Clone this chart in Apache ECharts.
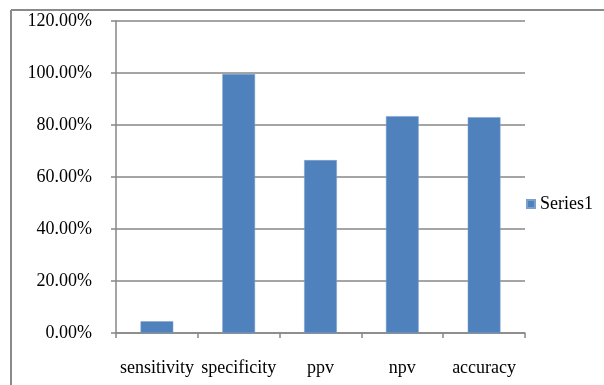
<!DOCTYPE html>
<html>
<head>
<meta charset="utf-8">
<script src="https://cdn.jsdelivr.net/npm/echarts@6/dist/echarts.min.js"></script>
<style>
  html,body{ margin:0; padding:0; background:#fff; }
  #chart{ width:604px; height:385px; }
</style>
</head>
<body>
<div id="chart"></div>
<script>
  // 数据
  var categories = ['sensitivity', 'specificity', 'ppv', 'npv', 'accuracy'];
  var series1 = [0.045, 0.996, 0.665, 0.834, 0.830];
  var seriesName = 'Series1';

  var font = 'Liberation Serif';
  var gray = '#878787';

  var myChart = echarts.init(document.getElementById('chart'));
  var option = {
    animation: false,
    backgroundColor: '#fff',
    textStyle: { fontFamily: font },
    // 外框（只露出左、上两边）
    graphic: [
      { type: 'line', shape: { x1: 11, y1: 10, x2: 604, y2: 10 }, style: { stroke: '#8a8a8a', lineWidth: 2 } },
      { type: 'line', shape: { x1: 11, y1: 10, x2: 11, y2: 385 }, style: { stroke: '#8a8a8a', lineWidth: 2 } }
    ],
    legend: {
      data: [seriesName],
      left: 521,
      top: 190,
      icon: 'rect',
      itemWidth: 8,
      itemHeight: 8,
      itemGap: 5,
      textStyle: { fontFamily: font, fontSize: 18, color: '#000' }
    },
    grid: {
      left: 116,
      top: 21,
      width: 409,
      height: 312
    },
    xAxis: {
      type: 'category',
      data: categories,
      axisLine: { lineStyle: { color: gray, width: 1.5 } },
      axisTick: { show: true, length: 5, lineStyle: { color: gray, width: 1.5 } },
      axisLabel: { margin: 26, fontFamily: font, fontSize: 18, color: '#000', interval: 0 }
    },
    yAxis: {
      type: 'value',
      min: 0,
      max: 1.2,
      interval: 0.2,
      axisLine: { show: true, lineStyle: { color: gray, width: 1.5 } },
      axisTick: { show: true, length: 5, lineStyle: { color: gray, width: 1.5 } },
      splitLine: { lineStyle: { color: gray, width: 1.5 } },
      axisLabel: {
        margin: 24,
        fontFamily: font,
        fontSize: 18,
        color: '#000',
        formatter: function (v) { return (v * 100).toFixed(2) + '%'; }
      }
    },
    series: [{
      name: seriesName,
      type: 'bar',
      data: series1,
      barCategoryGap: '60%',
      itemStyle: { color: '#4f81bd', borderColor: '#7aa0cf', borderWidth: 0.5 }
    }]
  };
  myChart.setOption(option);
</script>
</body>
</html>
